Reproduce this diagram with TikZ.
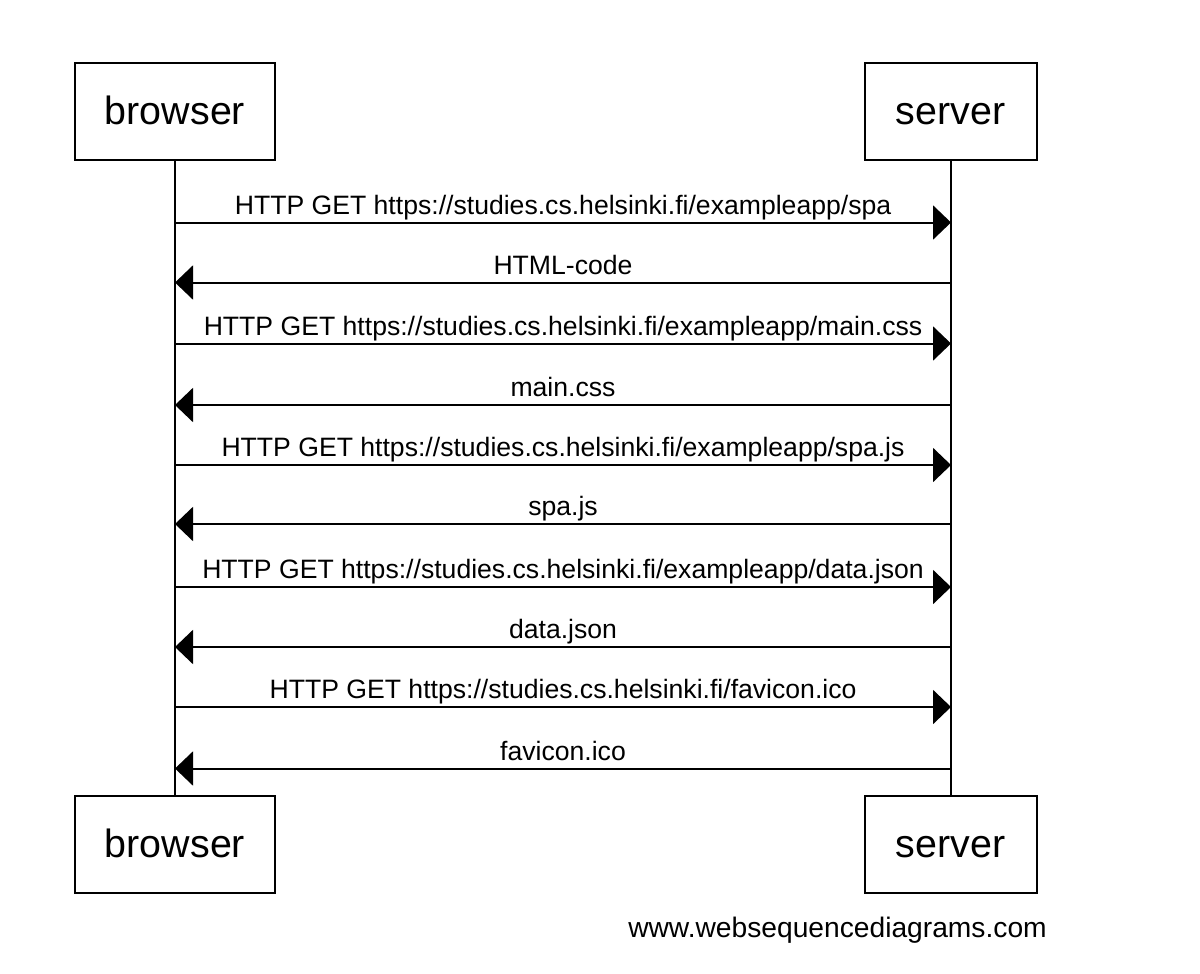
\documentclass[tikz,border=0pt]{standalone}
\usepackage{fontspec}
\setmainfont{Liberation Sans}
\usetikzlibrary{arrows.meta}

\begin{document}
\begin{tikzpicture}[x=0.5pt, y=-0.5pt,
	actor/.style={draw, line width=1pt, inner sep=0pt, minimum height=48.5pt, text height=14.5pt, text depth=1.5pt, font=\fontsize{19.7}{24}\selectfont},
	msg/.style={anchor=base, yshift=4.2pt, inner sep=0pt, font=\fontsize{13.3}{16}\selectfont},
	>={Triangle[length=9pt, width=17pt]}]
\useasboundingbox (0,0) rectangle (1200,974);

\node[actor, minimum width=100pt] (b1) at (175,112) {browser};
\node[actor, minimum width=86pt] (s1) at (950.5,112) {server};
\node[actor, minimum width=100pt] (b2) at (175,844) {browser};
\node[actor, minimum width=86pt] (s2) at (950.5,844) {server};

\draw[line width=1pt] (b1) -- (b2);
\draw[line width=1pt] (s1) -- (s2);

\foreach \y [count=\i] in {222.5,282.5,343.5,405,465,524,587,647,707,768.5}
{
	\coordinate (b-\i) at (175,\y);
	\coordinate (s-\i) at (951,\y);
}

\path[->, line width=1pt]
(b-1) edge node [msg] {HTTP GET https://studies.cs.helsinki.fi/exampleapp/spa} (s-1)
(s-2) edge node [msg] {HTML-code} (b-2)
(b-3) edge node [msg] {HTTP GET https://studies.cs.helsinki.fi/exampleapp/main.css} (s-3)
(s-4) edge node [msg] {main.css} (b-4)
(b-5) edge node [msg] {HTTP GET https://studies.cs.helsinki.fi/exampleapp/spa.js} (s-5)
(s-6) edge node [msg] {spa.js} (b-6)
(b-7) edge node [msg] {HTTP GET https://studies.cs.helsinki.fi/exampleapp/data.json} (s-7)
(s-8) edge node [msg] {data.json} (b-8)
(b-9) edge node [msg] {HTTP GET https://studies.cs.helsinki.fi/favicon.ico} (s-9)
(s-10) edge node [msg] {favicon.ico} (b-10)
;

\node[font=\fontsize{14.1}{17}\selectfont] (wsd) at (837.5,930) {www.websequencediagrams.com};
\end{tikzpicture}
\end{document}
